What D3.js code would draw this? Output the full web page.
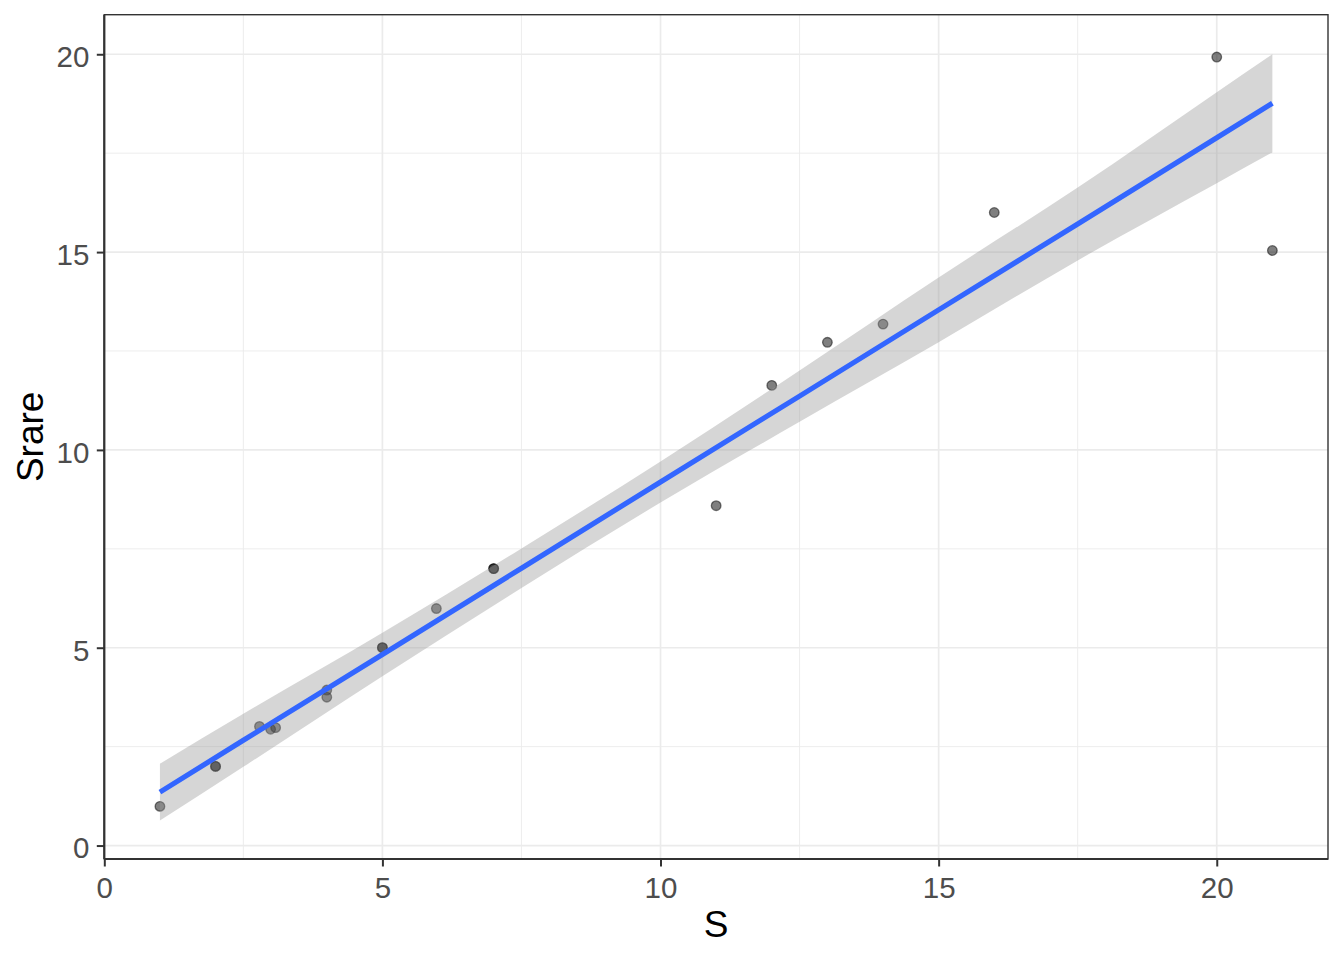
<!DOCTYPE html>
<html>
<head>
<meta charset="utf-8">
<script src="https://cdn.jsdelivr.net/npm/d3@7"></script>
<style>
  body { margin: 0; background: #fff; }
  svg { display: block; font-family: "Liberation Sans", Arial, sans-serif; }
</style>
</head>
<body>
<div id="chart-area"></div>
<script>
// Observed points (S vs Srare)
var S     = [1, 2, 2, 2.79, 2.99, 3.08, 4, 4, 5, 5, 5.97, 7, 7, 11, 12, 13, 14, 16, 20, 21];
var Srare = [0.99, 2, 2, 3.01, 2.94, 2.98, 3.93, 3.75, 5, 5, 5.99, 7, 7, 8.59, 11.63, 12.72, 13.18, 16, 19.93, 15.04];

// Linear fit and its confidence band
var fitX    = [1, 2.5, 5, 7.5, 10, 12.5, 15, 17.5, 20, 21];
var fitY    = [1.35, 2.66, 4.83, 7.01, 9.19, 11.36, 13.54, 15.71, 17.89, 18.76];
var fitLow  = [0.63, 1.99, 4.28, 6.51, 8.67, 10.71, 12.72, 14.79, 16.74, 17.52];
var fitHigh = [2.07, 3.33, 5.38, 7.51, 9.71, 12.01, 14.36, 16.63, 19.04, 20.0];

// Axis breaks
var majorTicks = [0, 5, 10, 15, 20];
var minorTicks = [2.5, 7.5, 12.5, 17.5];

var width = 1344, height = 960;
var panel = { left: 104.3, right: 1328, top: 14.7, bottom: 859 };

var svg = d3.select("#chart-area")
	.append("svg")
		.attr("width", width)
		.attr("height", height);

// Scales (ggplot-style 5% expansion already folded into the domains)
var x = d3.scaleLinear()
		.domain([0, 22])
		.range([panel.left, panel.right]);

var y = d3.scaleLinear()
		.domain([-0.34, 21.0])
		.range([panel.bottom, panel.top]);

// Grid lines
var grid = svg.append("g");

grid.selectAll(".minor-x")
	.data(minorTicks)
	.enter()
	.append("line")
		.attr("x1", (d) => x(d)).attr("x2", (d) => x(d))
		.attr("y1", panel.top).attr("y2", panel.bottom)
		.attr("stroke", "#EBEBEB")
		.attr("stroke-width", 0.9);

grid.selectAll(".minor-y")
	.data(minorTicks)
	.enter()
	.append("line")
		.attr("x1", panel.left).attr("x2", panel.right)
		.attr("y1", (d) => y(d)).attr("y2", (d) => y(d))
		.attr("stroke", "#EBEBEB")
		.attr("stroke-width", 0.9);

grid.selectAll(".major-x")
	.data(majorTicks)
	.enter()
	.append("line")
		.attr("x1", (d) => x(d)).attr("x2", (d) => x(d))
		.attr("y1", panel.top).attr("y2", panel.bottom)
		.attr("stroke", "#EBEBEB")
		.attr("stroke-width", 1.7);

grid.selectAll(".major-y")
	.data(majorTicks)
	.enter()
	.append("line")
		.attr("x1", panel.left).attr("x2", panel.right)
		.attr("y1", (d) => y(d)).attr("y2", (d) => y(d))
		.attr("stroke", "#EBEBEB")
		.attr("stroke-width", 1.7);

// Points
var points = S.map((d, i) => ({ s: d, r: Srare[i] }));

svg.append("g")
	.selectAll("circle")
	.data(points)
	.enter()
	.append("circle")
		.attr("cx", (d) => x(d.s))
		.attr("cy", (d) => y(d.r))
		.attr("r", 4.8)
		.attr("fill", "#000")
		.attr("fill-opacity", 0.5)
		.attr("stroke", "#000")
		.attr("stroke-opacity", 0.5)
		.attr("stroke-width", 1.3);

// Confidence band and fitted line
var fit = fitX.map((d, i) => ({ x: d, y: fitY[i], lo: fitLow[i], hi: fitHigh[i] }));

svg.append("path")
	.datum(fit)
	.attr("d", d3.area()
		.x((d) => x(d.x))
		.y0((d) => y(d.lo))
		.y1((d) => y(d.hi))
		.curve(d3.curveMonotoneX))
	.attr("fill", "#999999")
	.attr("fill-opacity", 0.4);

svg.append("path")
	.datum(fit)
	.attr("d", d3.line()
		.x((d) => x(d.x))
		.y((d) => y(d.y)))
	.attr("fill", "none")
	.attr("stroke", "#3366FF")
	.attr("stroke-width", 5.2);

// Panel border
svg.append("rect")
	.attr("x", panel.left)
	.attr("y", panel.top)
	.attr("width", panel.right - panel.left)
	.attr("height", panel.bottom - panel.top)
	.attr("fill", "none")
	.attr("stroke", "#333333")
	.attr("stroke-width", 1.4);

// Axes
var xAxisCall = d3.axisBottom(x)
	.tickValues(majorTicks)
	.tickSize(7.5)
	.tickPadding(10.5)
	.tickFormat(d3.format("d"));

var yAxisCall = d3.axisLeft(y)
	.tickValues(majorTicks)
	.tickSize(7.5)
	.tickPadding(7.5)
	.tickFormat(d3.format("d"));

var xAxis = svg.append("g")
	.attr("transform", `translate(0,${panel.bottom})`)
	.call(xAxisCall);

var yAxis = svg.append("g")
	.attr("transform", `translate(${panel.left},0)`)
	.call(yAxisCall);

[xAxis, yAxis].forEach((g) => {
	g.select(".domain")
		.attr("stroke", "#333333")
		.attr("stroke-width", 2.2);
	g.selectAll(".tick line")
		.attr("stroke", "#333333")
		.attr("stroke-width", 2);
	g.selectAll(".tick text")
		.attr("fill", "#4D4D4D")
		.attr("font-size", 29.5)
		.attr("font-family", "Liberation Sans, Arial, sans-serif");
});
xAxis.select(".domain").attr("d", `M${panel.left},0H${panel.right}`);
yAxis.select(".domain").attr("d", `M0,${panel.bottom}V${panel.top}`);
yAxis.selectAll(".tick text").attr("dy", "0.42em");

// Axis titles
svg.append("text")
	.attr("x", (panel.left + panel.right) / 2)
	.attr("y", 937)
	.attr("font-size", 37)
	.attr("text-anchor", "middle")
	.attr("fill", "#000")
	.text("S");

svg.append("text")
	.attr("x", -(panel.top + panel.bottom) / 2)
	.attr("y", 42.5)
	.attr("font-size", 37)
	.attr("text-anchor", "middle")
	.attr("transform", "rotate(-90)")
	.attr("fill", "#000")
	.text("Srare");
</script>
</body>
</html>
